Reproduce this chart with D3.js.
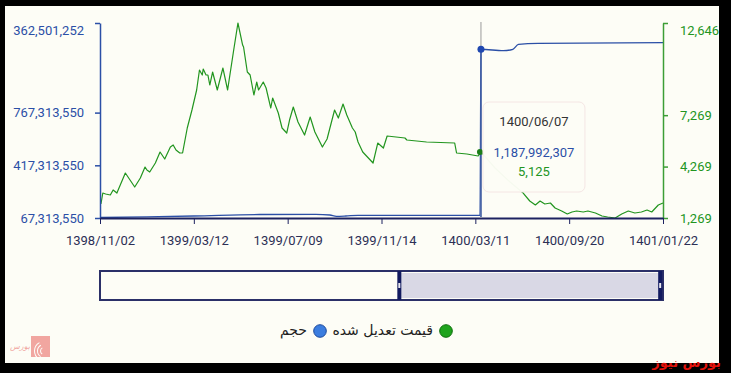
<!DOCTYPE html>
<html>
<head>
<meta charset="utf-8">
<script src="https://cdn.jsdelivr.net/npm/d3@7"></script>
<style>
  body { margin: 0; background: #000; }
  svg { display: block; font-family: Roboto, sans-serif; }
</style>
</head>
<body>
<div id="chart"></div>
<script>
// x is a trading-day index, 0..600, ticks every 100
var dateTicks = ["1398/11/02", "1399/03/12", "1399/07/09", "1399/11/14", "1400/03/11", "1400/09/20", "1401/01/22"];

// adjusted price (green, right axis)
var priceDays = [1,3,6,11,14,18,27,32,37,43,48,50,53,59,64,69,75,78,81,85,88,93,98,103,106,109,110,113,115,117,120,125,131,136,142,147,152,153,157,160,164,167,169,174,177,182,184,190,194,199,202,206,211,218,224,229,237,242,250,254,259,263,269,272,275,280,291,296,302,306,325,327,348,378,380,391,403,406,421,437,451,458,464,469,474,480,485,492,498,503,508,515,520,528,535,541,549,556,563,570,577,583,588,595,600];
var priceValues = [2086,2727,2669,2611,2904,2727,3894,3486,3078,3603,4244,4069,3953,4478,5119,4711,5411,5528,5236,5061,5061,6520,7570,8737,9903,9612,9962,9612,9612,9028,9787,8737,10020,8737,10895,12646,11362,11245,9787,9612,8445,9203,8737,9203,8853,7686,8270,7395,6520,6228,6986,7745,6870,6111,7161,6286,5411,5878,7570,7103,7920,7278,6520,6286,5703,5119,4478,5644,5353,6053,5936,5819,5703,5644,5061,5003,4886,5125,4186,3369,2727,2261,2027,2261,2086,2144,1852,1677,1502,1619,1677,1619,1677,1561,1386,1327,1269,1502,1677,1561,1619,1736,1619,2027,2144];

// volume (blue, left axis)
var volumeDays = [0, 50, 100, 170, 230, 245, 252, 262, 275, 405, 406, 430, 440, 446, 467, 600];
var volumeValues = [70600000, 75000000, 80600000, 90600000, 91900000, 87200000, 78600000, 80600000, 85200000, 85200000, 1187992307, 1178500000, 1188000000, 1221000000, 1227700000, 1231700000];

var volumeTicks = [67313550, 417313550, 767313550, 1362501252];
var volumeTickLabels = ["67,313,550", "417,313,550", "767,313,550", "362,501,252"];
var priceTicks = [1269, 4269, 7269, 12646];

var hoverDay = 406, hoverDate = "1400/06/07", hoverVolume = 1187992307, hoverPrice = 5125;
var navRange = [319, 597];
var legendLabels = ["قیمت تعدیل شده", "حجم"];

var W = 731, H = 373;
var blue = "#2b4fa6", green = "#22951f", navy = "#1d2260";
var fmt = d3.format(",");

var svg = d3.select('#chart').append('svg').attr('width', W).attr('height', H);
svg.append('rect').attr('width', W).attr('height', H).attr('fill', '#000');
svg.append('rect').attr('x', 5).attr('y', 6).attr('width', 714).attr('height', 357).attr('fill', '#fdfdf6');

var x = d3.scaleLinear().domain([0, 600]).range([100, 663]);
var yVol = d3.scaleLinear().domain([67313550, 1362501252]).range([218, 23]);
var yPrice = d3.scaleLinear().domain([1269, 12646]).range([218, 23]);

// lines
var priceLine = d3.line().x(function (d, i) { return x(priceDays[i]); })
    .y(function (d) { return yPrice(d); });
var volLine = d3.line().x(function (d, i) { return x(volumeDays[i]); })
    .y(function (d) { return yVol(d); }).curve(d3.curveMonotoneX);

svg.append('path').attr('d', priceLine(priceValues)).attr('fill', 'none')
    .attr('stroke', green).attr('stroke-width', 1.2).attr('stroke-linejoin', 'round');
svg.append('path').attr('d', volLine(volumeValues)).attr('fill', 'none')
    .attr('stroke', blue).attr('stroke-width', 1.3);

// axes
var left = svg.append('g').attr('transform', 'translate(' + x(0) + ',0)')
    .call(d3.axisLeft(yVol).tickValues(volumeTicks).tickSize(5).tickSizeOuter(0).tickPadding(11)
        .tickFormat(function (d, i) { return volumeTickLabels[i]; }));
left.selectAll('path, line').attr('stroke', blue).attr('stroke-width', 1.5);
left.selectAll('text').attr('fill', blue).style('font-size', '13px').style('font-family', 'Roboto');
left.selectAll('.tick').filter(function (d) { return d === volumeTicks[3]; }).select('text').attr('y', 7);

var right = svg.append('g').attr('transform', 'translate(' + x(600) + ',0)')
    .call(d3.axisRight(yPrice).tickValues(priceTicks).tickSize(5).tickSizeOuter(0).tickPadding(12)
        .tickFormat(fmt));
right.selectAll('path, line').attr('stroke', '#3c9e35').attr('stroke-width', 1.5);
right.selectAll('text').attr('fill', green).style('font-size', '13px').style('font-family', 'Roboto');
right.selectAll('.tick').filter(function (d) { return d === priceTicks[3]; }).select('text').attr('y', 7);

var bottom = svg.append('g').attr('transform', 'translate(0,218)')
    .call(d3.axisBottom(x).tickValues(d3.range(0, 601, 100)).tickSize(6).tickSizeOuter(0).tickPadding(12)
        .tickFormat(function (d, i) { return dateTicks[i]; }));
bottom.select('.domain').attr('stroke', navy).attr('stroke-width', 2);
bottom.selectAll('line').attr('stroke', navy);
bottom.selectAll('text').attr('fill', '#2c2f55').style('font-size', '13px').style('font-family', 'Roboto');

// hover cursor + markers
svg.append('line').attr('x1', x(hoverDay)).attr('x2', x(hoverDay)).attr('y1', 22).attr('y2', 218)
    .attr('stroke', '#9a9a9a').attr('stroke-width', 1);
svg.append('line').attr('x1', x(hoverDay)).attr('x2', x(hoverDay)).attr('y1', yVol(hoverVolume)).attr('y2', 217)
    .attr('stroke', blue).attr('stroke-width', 1.3);
svg.append('circle').attr('cx', x(hoverDay)).attr('cy', yVol(hoverVolume)).attr('r', 3.5).attr('fill', '#1f47b0');
svg.append('circle').attr('cx', x(hoverDay) - 1).attr('cy', yPrice(hoverPrice)).attr('r', 3).attr('fill', '#1b7d18');

// tooltip
var tip = svg.append('g').attr('transform', 'translate(' + (x(hoverDay) + 2) + ',102)');
tip.append('rect').attr('width', 102).attr('height', 90).attr('rx', 6)
    .attr('fill', '#fdfdf6').attr('fill-opacity', 0.97).attr('stroke', '#f5e6e4');
tip.append('text').attr('x', 51).attr('y', 24).attr('text-anchor', 'middle')
    .style('font-size', '13px').attr('fill', '#333').text(hoverDate);
tip.append('text').attr('x', 51).attr('y', 55).attr('text-anchor', 'middle')
    .style('font-size', '13px').attr('fill', blue).text(fmt(hoverVolume));
tip.append('text').attr('x', 51).attr('y', 74).attr('text-anchor', 'middle')
    .style('font-size', '13px').attr('fill', green).text(fmt(hoverPrice));

// navigator
svg.append('rect').attr('x', x(0)).attr('y', 271).attr('width', x(600) - x(0)).attr('height', 29)
    .attr('fill', '#fdfdf6').attr('stroke', '#2b3068').attr('stroke-width', 2);
svg.append('rect').attr('x', x(navRange[0])).attr('y', 273).attr('width', x(navRange[1]) - x(navRange[0])).attr('height', 25)
    .attr('fill', '#d9d8e5');
navRange.forEach(function (t) {
    svg.append('rect').attr('x', x(t) - 2).attr('y', 271).attr('width', 4).attr('height', 29).attr('fill', '#121a60');
    svg.append('rect').attr('x', x(t) - 1).attr('y', 283).attr('width', 2).attr('height', 5).attr('fill', '#e8e8f0');
});

// legend
var legendColors = [["#1fa41d", "#0d6e0c"], ["#3b7ddf", "#1d4a9c"]];
var legendX = [446, 320];
legendLabels.forEach(function (lab, i) {
    svg.append('circle').attr('cx', legendX[i]).attr('cy', 331).attr('r', 6.3)
        .attr('fill', legendColors[i][0]).attr('stroke', legendColors[i][1]).attr('stroke-width', 1);
    svg.append('text').attr('x', legendX[i] - 13).attr('y', 335).attr('text-anchor', 'end')
        .style('font-family', 'DejaVu Sans').style('font-size', '14px').attr('fill', '#222').text(lab);
});

// watermark logo bottom-left
var logo = svg.append('g').attr('opacity', 0.55);
logo.append('rect').attr('x', 31).attr('y', 336).attr('width', 19).attr('height', 21).attr('fill', '#e8605a');
[4, 7, 10].forEach(function (r) {
    logo.append('path').attr('d', d3.arc()({ innerRadius: r - 1, outerRadius: r, startAngle: -2.6, endAngle: -0.5 }))
        .attr('transform', 'translate(44,351)').attr('fill', '#fff');
});
logo.append('text').attr('x', 30).attr('y', 349).attr('text-anchor', 'end')
    .style('font-family', 'DejaVu Sans').style('font-size', '8px').style('font-style', 'italic')
    .attr('fill', '#e8605a').text('بورس');

// red stamp bottom-right
svg.append('text').attr('x', 721).attr('y', 367).attr('text-anchor', 'end')
    .style('font-family', 'DejaVu Sans').style('font-size', '13px').style('font-weight', 'bold')
    .attr('fill', '#e3120b').text('بورس نیوز');
</script>
</body>
</html>
